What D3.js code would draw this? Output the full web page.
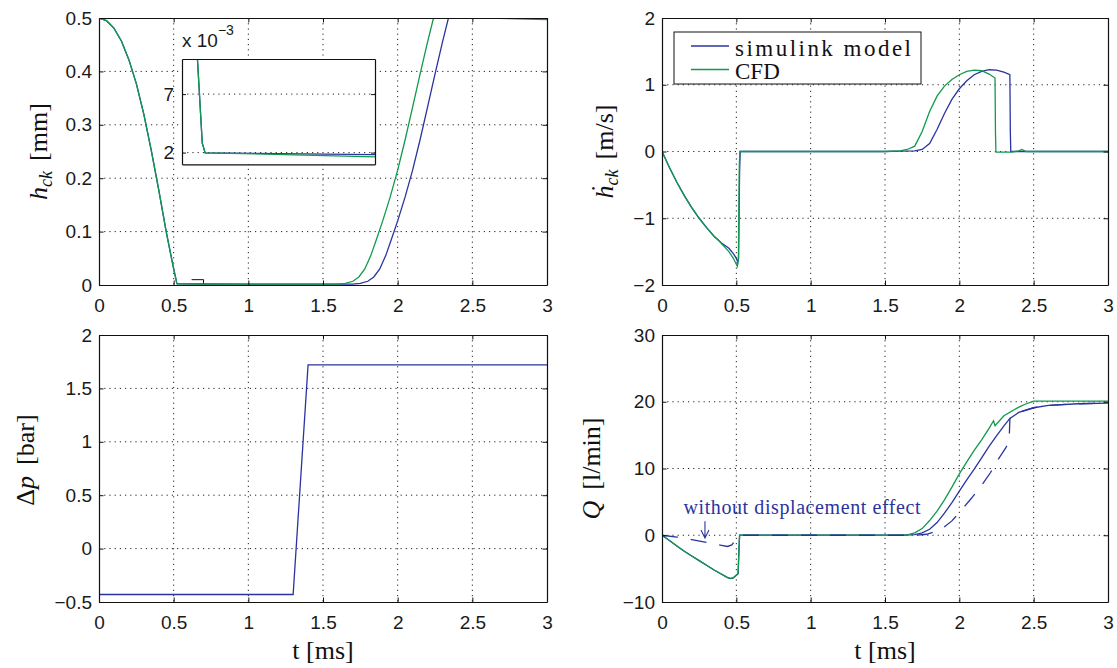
<!DOCTYPE html>
<meta charset="utf-8">
<style>
  body { margin: 0; background: #fff; }
  .grid { stroke: #222; stroke-width: 1; stroke-dasharray: 1.2,4; }
  .lab { font-family: "Liberation Serif", "Times New Roman", serif; font-size: 26px; fill: #111; }
</style>
<svg width="1117" height="668"></svg>
<script src="https://d3js.org/d3.v7.min.js"></script>
<script>

// ---- data (t in ms) ----
var tTicks = [0, 0.5, 1, 1.5, 2, 2.5, 3];
var hTicks = [0, 0.1, 0.2, 0.3, 0.4, 0.5];
var hdotTicks = [-2, -1, 0, 1, 2];
var dpTicks = [-0.5, 0, 0.5, 1, 1.5, 2];
var qTicks = [-10, 0, 10, 20, 30];
var insetTicks = [0.002, 0.007];
var insetT = [0.5, 0.7],
    insetH = [0.001, 0.01],
    markT = [0.62, 0.7];

var hSim = [[0,0.5],[0.05,0.495],[0.1,0.481],[0.15,0.457],[0.2,0.422],[0.25,0.377],[0.3,0.32],
  [0.35,0.252],[0.4,0.178],[0.45,0.1],[0.5,0.03],[0.516,0.01],[0.521,0.0028],[0.524,0.00197],
  [0.55,0.00195],[0.7,0.00183],[1.0,0.0017],[1.5,0.0016],[1.7,0.0018],[1.75,0.003],[1.8,0.007],
  [1.84,0.015],[1.88,0.03],[1.92,0.055],[1.96,0.087],[2.0,0.12],[2.05,0.165],[2.1,0.215],
  [2.15,0.272],[2.2,0.333],[2.25,0.395],[2.3,0.455],[2.34,0.5],[3,0.5]];
var hCfd = [[0,0.5],[0.05,0.495],[0.1,0.481],[0.15,0.457],[0.2,0.422],[0.25,0.377],[0.3,0.32],
  [0.35,0.252],[0.4,0.178],[0.45,0.1],[0.5,0.03],[0.516,0.01],[0.521,0.0028],[0.524,0.00197],
  [0.55,0.00194],[0.7,0.00164],[1.0,0.0015],[1.5,0.0015],[1.6,0.0018],[1.65,0.003],[1.7,0.007],
  [1.74,0.015],[1.78,0.03],[1.82,0.055],[1.86,0.087],[1.9,0.12],[1.95,0.165],[2.0,0.215],
  [2.05,0.272],[2.1,0.333],[2.15,0.395],[2.2,0.455],[2.24,0.5],[2.6,0.5],[3,0.497]];

var hdotSim = [[0,0],[0.05,-0.24],[0.1,-0.46],[0.15,-0.66],[0.2,-0.84],[0.25,-1.0],[0.3,-1.14],
  [0.35,-1.27],[0.38,-1.33],[0.4,-1.37],[0.45,-1.45],[0.48,-1.53],[0.5,-1.6],[0.51,-1.66],
  [0.515,-1.6],[0.522,-0.3],[0.526,0],[1.5,0],[1.6,0.005],[1.7,0.01],[1.75,0.03],[1.8,0.12],
  [1.85,0.33],[1.9,0.57],[1.95,0.78],[2.0,0.94],[2.05,1.06],[2.1,1.15],[2.15,1.2],[2.2,1.225],
  [2.25,1.22],[2.3,1.19],[2.34,1.15],[2.343,0.3],[2.346,0],[3,0]];
var hdotCfd = [[0,0],[0.05,-0.24],[0.1,-0.46],[0.15,-0.66],[0.2,-0.84],[0.25,-1.0],[0.3,-1.14],
  [0.35,-1.27],[0.38,-1.33],[0.4,-1.38],[0.45,-1.5],[0.48,-1.6],[0.5,-1.69],[0.507,-1.72],
  [0.514,-1.6],[0.52,-0.2],[0.524,0],[1.5,0],[1.6,0.01],[1.65,0.03],[1.7,0.08],[1.75,0.3],
  [1.8,0.6],[1.85,0.83],[1.9,0.98],[1.95,1.08],[2.0,1.15],[2.05,1.2],[2.1,1.22],[2.15,1.21],
  [2.2,1.16],[2.24,1.1],[2.243,0.3],[2.246,-0.01],[2.35,-0.01],[2.4,0.01],[2.42,0.03],[2.45,0],[3,0]];

var dpSim = [[0,-0.43],[1.3,-0.43],[1.4,1.72],[3,1.72]];

var qSim = [[0,0],[0.05,-0.8],[0.1,-1.6],[0.15,-2.4],[0.2,-3.1],[0.25,-3.8],[0.3,-4.5],[0.35,-5.2],
  [0.4,-5.85],[0.44,-6.35],[0.46,-6.5],[0.48,-6.4],[0.5,-6.0],[0.512,-5.75],[0.518,-2],[0.522,0],
  [1.6,0],[1.7,0.1],[1.75,0.35],[1.8,0.9],[1.85,1.9],[1.9,3.3],[1.95,4.9],[2.0,6.6],[2.05,8.3],
  [2.1,9.9],[2.15,11.6],[2.2,13.3],[2.25,14.9],[2.3,16.4],[2.34,17.5],[2.4,18.4],[2.5,19.1],
  [2.6,19.45],[2.8,19.7],[3,19.8]];
var qCfd = [[0,0],[0.05,-0.8],[0.1,-1.6],[0.15,-2.4],[0.2,-3.1],[0.25,-3.8],[0.3,-4.5],[0.35,-5.2],
  [0.4,-5.8],[0.44,-6.3],[0.46,-6.45],[0.48,-6.35],[0.5,-6.0],[0.512,-5.7],[0.518,-2],[0.522,0],
  [1.6,0],[1.65,0.05],[1.7,0.35],[1.75,1.0],[1.8,2.2],[1.85,3.6],[1.9,5.3],[1.95,7.2],[2.0,9.2],
  [2.05,11.0],[2.1,12.7],[2.15,14.3],[2.2,16.0],[2.23,17.15],[2.24,16.4],[2.3,17.9],[2.4,19.2],
  [2.45,19.7],[2.5,20.1],[3,20.1]];
var qNoDisp = [[0,0],[0.1,-0.27],[0.2,-0.65],[0.3,-1.08],[0.35,-1.3],[0.4,-1.52],[0.44,-1.68],
  [0.47,-1.45],[0.5,-0.5],[0.52,0],[1.7,0],[1.78,0.15],[1.87,0.75],[1.95,2.15],[2.0,3.4],
  [2.08,5.5],[2.15,7.5],[2.21,9.4],[2.25,11],[2.31,13],[2.335,14],[2.34,17.5],[2.4,18.4],
  [2.5,19.1],[2.6,19.45],[2.8,19.7],[3,19.8]];

var legendNames = ["simulink model", "CFD"];
var note = { text: "without displacement effect", t: 0.145, q: 3.2, arrowT: 0.289, arrowQ: [2.1, -0.42] };

var blue = "#2a34a0", green = "#0f9a4d";

var svg = d3.select("svg");
var fmt = function(d) { return d < 0 ? "\u2212" + Math.abs(d) : String(d); };

function styleAxis(sel) {
  sel.attr("color", "#111");
  sel.selectAll(".domain").attr("stroke-width", 1.2);
  sel.selectAll(".tick line").attr("stroke-width", 1);
  sel.selectAll(".tick text")
    .style("font-family", "'Liberation Sans', Arial, sans-serif")
    .style("font-size", "19px")
    .attr("fill", "#1a1a1a");
}

function makePanel(o) {
  var x = d3.scaleLinear().domain([0, 3]).range([o.x0, o.x1]);
  var y = d3.scaleLinear().domain(o.yDomain).range([o.y1, o.y0]);
  var g = svg.append("g");

  svg.append("clipPath").attr("id", "clip-" + o.id)
    .append("rect")
    .attr("x", o.x0).attr("y", o.y0)
    .attr("width", o.x1 - o.x0).attr("height", o.y1 - o.y0);

  g.append("g").selectAll("line").data(tTicks.slice(1, -1)).join("line")
    .attr("class", "grid")
    .attr("x1", x).attr("x2", x).attr("y1", o.y0).attr("y2", o.y1);
  g.append("g").selectAll("line").data(o.yTicks.slice(1, -1)).join("line")
    .attr("class", "grid")
    .attr("x1", o.x0).attr("x2", o.x1).attr("y1", y).attr("y2", y);

  var lines = g.append("g").attr("clip-path", "url(#clip-" + o.id + ")");

  var ax = g.append("g");
  ax.append("g").attr("transform", "translate(0," + o.y1 + ")")
    .call(d3.axisBottom(x).tickValues(tTicks).tickFormat(fmt).tickSize(-4.5).tickSizeOuter(0).tickPadding(14));
  ax.append("g").attr("transform", "translate(0," + o.y0 + ")")
    .call(d3.axisTop(x).tickValues(tTicks).tickFormat("").tickSize(-4.5).tickSizeOuter(0));
  ax.append("g").attr("transform", "translate(" + o.x0 + ",0)")
    .call(d3.axisLeft(y).tickValues(o.yTicks).tickFormat(fmt).tickSize(-4.5).tickSizeOuter(0).tickPadding(7));
  ax.append("g").attr("transform", "translate(" + o.x1 + ",0)")
    .call(d3.axisRight(y).tickValues(o.yTicks).tickFormat("").tickSize(-4.5).tickSizeOuter(0));
  styleAxis(ax);

  return { x: x, y: y, lines: lines, o: o };
}

function drawSeries(p, data, color, dash) {
  p.lines.append("path").datum(data)
    .attr("d", d3.line().x(function(d) { return p.x(d[0]); }).y(function(d) { return p.y(d[1]); }))
    .attr("fill", "none")
    .attr("stroke", color)
    .attr("stroke-width", 1.3)
    .attr("stroke-dasharray", dash || null);
}

function yLabel(px, py, parts) {
  var t = svg.append("text").attr("class", "lab")
    .attr("transform", "translate(" + px + "," + py + ") rotate(-90)")
    .attr("text-anchor", "middle");
  parts.forEach(function(p) {
    t.append("tspan").text(p.s)
      .attr("font-style", p.i ? "italic" : null)
      .attr("font-size", p.size || null)
      .attr("dx", p.dx || null)
      .attr("dy", p.dy || null);
  });
}

function xLabel(p) {
  svg.append("text").attr("class", "lab")
    .attr("x", (p.o.x0 + p.o.x1) / 2).attr("y", p.o.y1 + 57)
    .attr("text-anchor", "middle")
    .text("t [ms]");
}

var pH = makePanel({ id: "h", x0: 99, x1: 547, y0: 18, y1: 285, yDomain: [0, 0.5], yTicks: hTicks });
var pV = makePanel({ id: "v", x0: 662, x1: 1108, y0: 18, y1: 285, yDomain: [-2, 2], yTicks: hdotTicks });
var pP = makePanel({ id: "p", x0: 99, x1: 547, y0: 335, y1: 602, yDomain: [-0.5, 2], yTicks: dpTicks });
var pQ = makePanel({ id: "q", x0: 662, x1: 1108, y0: 335, y1: 602, yDomain: [-10, 30], yTicks: qTicks });

// zoom marker in the h plot (top and right edges show above the curves)
var mx0 = pH.x(markT[0]), mx1 = pH.x(markT[1]), my0 = pH.y(insetH[1]), my1 = pH.y(insetH[0]);
pH.lines.append("path")
  .attr("d", "M" + mx0 + "," + my0 + "H" + mx1 + "V" + my1)
  .attr("fill", "none").attr("stroke", "#111").attr("stroke-width", 1);

drawSeries(pH, hSim, blue);
drawSeries(pH, hCfd, green);
drawSeries(pV, hdotSim, blue);
drawSeries(pV, hdotCfd, green);
drawSeries(pP, dpSim, blue);
drawSeries(pQ, qSim, blue);
drawSeries(pQ, qCfd, green);
drawSeries(pQ, qNoDisp, blue, "16,13");

// ---- inset ----
var ix0 = 182, ix1 = 375, iy0 = 59, iy1 = 164.3;
var xi = d3.scaleLinear().domain(insetT).range([ix0, ix1]);
var yi = d3.scaleLinear().domain(insetH).range([iy1, iy0]);
var gi = svg.append("g");
gi.append("rect").attr("x", ix0).attr("y", iy0).attr("width", ix1 - ix0).attr("height", iy1 - iy0).attr("fill", "#fff");
svg.append("clipPath").attr("id", "clip-inset")
  .append("rect").attr("x", ix0).attr("y", iy0).attr("width", ix1 - ix0).attr("height", iy1 - iy0);
gi.selectAll(".ig").data(insetTicks).join("line")
  .attr("class", "grid")
  .attr("x1", ix0).attr("x2", ix1).attr("y1", yi).attr("y2", yi);
var gil = gi.append("g").attr("clip-path", "url(#clip-inset)");
var pI = { x: xi, y: yi, lines: gil };
drawSeries(pI, hSim, blue);
drawSeries(pI, hCfd, green);
var iax = gi.append("g");
iax.append("g").attr("transform", "translate(0," + iy1 + ")")
  .call(d3.axisBottom(xi).tickValues([]).tickSizeOuter(0));
iax.append("g").attr("transform", "translate(0," + iy0 + ")")
  .call(d3.axisTop(xi).tickValues([]).tickSizeOuter(0));
iax.append("g").attr("transform", "translate(" + ix0 + ",0)")
  .call(d3.axisLeft(yi).tickValues(insetTicks).tickFormat(function(d) { return Math.round(d * 1000); })
    .tickSize(-4).tickSizeOuter(0).tickPadding(8));
iax.append("g").attr("transform", "translate(" + ix1 + ",0)")
  .call(d3.axisRight(yi).tickValues(insetTicks).tickFormat("").tickSize(-4).tickSizeOuter(0));
styleAxis(iax);
var mult = gi.append("text").attr("x", ix0).attr("y", 47)
  .style("font-family", "'Liberation Sans', Arial, sans-serif").style("font-size", "19px").attr("fill", "#1a1a1a");
mult.append("tspan").text("x 10");
mult.append("tspan").text("\u22123").attr("dy", -12).style("font-size", "14px");

// ---- axis labels ----
yLabel(47, 151.5, [{ s: "h", i: true }, { s: "ck", i: true, size: 18, dy: 5 }, { s: "[mm]", dx: 10, dy: -5 }]);
yLabel(613, 151.5, [{ s: "\u1E23", i: true }, { s: "ck", i: true, size: 18, dy: 5 }, { s: "[m/s]", dx: 10, dy: -5 }]);
yLabel(34, 460, [{ s: "\u0394" }, { s: "p", i: true }, { s: "[bar]", dx: 11 }]);
yLabel(600, 468.5, [{ s: "Q", i: true }, { s: "[l/min]", dx: 11 }]);
xLabel(pP);
xLabel(pQ);

// ---- legend ----
var lg = svg.append("g");
lg.append("rect").attr("x", 674).attr("y", 32).attr("width", 247).attr("height", 52)
  .attr("fill", "#fff").attr("stroke", "#111").attr("stroke-width", 1);
var legendColors = [blue, green], legendWidths = [176, null];
legendNames.forEach(function(name, i) {
  var ly = 46 + i * 23.5;
  lg.append("line").attr("x1", 691).attr("x2", 729).attr("y1", ly).attr("y2", ly)
    .attr("stroke", legendColors[i]).attr("stroke-width", 1.3);
  lg.append("text").attr("class", "lab").style("font-size", "23px")
    .attr("x", 735).attr("y", ly + 9.5)
    .attr("textLength", legendWidths[i])
    .attr("lengthAdjust", legendWidths[i] ? "spacing" : null)
    .text(name);
});

// ---- annotation ----
svg.append("text").attr("class", "lab").style("font-size", "20px").style("fill", blue)
  .attr("x", pQ.x(note.t)).attr("y", pQ.y(note.q))
  .attr("textLength", 237).attr("lengthAdjust", "spacing")
  .text(note.text);
var axp = pQ.x(note.arrowT), ay0 = pQ.y(note.arrowQ[0]), ay1 = pQ.y(note.arrowQ[1]);
svg.append("path")
  .attr("d", "M" + axp + "," + ay0 + "V" + ay1 + "M" + (axp - 4) + "," + (ay1 - 8) + "L" + axp + "," + ay1 + "L" + (axp + 4) + "," + (ay1 - 8))
  .attr("fill", "none").attr("stroke", blue).attr("stroke-width", 1.1);

</script>
